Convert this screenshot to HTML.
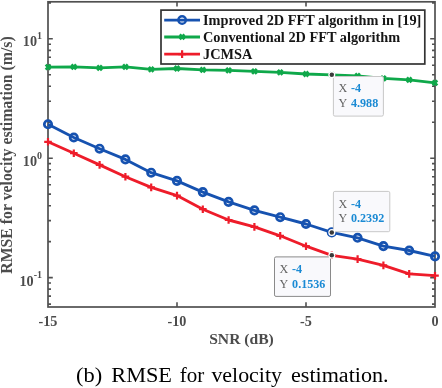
<!DOCTYPE html><html><head><meta charset="utf-8"><style>html,body{margin:0;padding:0;background:#fff;width:442px;height:388px;overflow:hidden}svg{display:block;will-change:transform}</style></head><body>
<svg width="442" height="388" viewBox="0 0 442 388">
<rect width="442" height="388" fill="#fff"/>
<path d="M48.0,304.09h3M435.0,304.09h-3M48.0,296.10h3M435.0,296.10h-3M48.0,289.17h3M435.0,289.17h-3M48.0,283.06h3M435.0,283.06h-3M48.0,277.60h4.8M435.0,277.60h-4.8M48.0,241.66h3M435.0,241.66h-3M48.0,220.63h3M435.0,220.63h-3M48.0,205.71h3M435.0,205.71h-3M48.0,194.14h3M435.0,194.14h-3M48.0,184.69h3M435.0,184.69h-3M48.0,176.70h3M435.0,176.70h-3M48.0,169.77h3M435.0,169.77h-3M48.0,163.66h3M435.0,163.66h-3M48.0,158.20h4.8M435.0,158.20h-4.8M48.0,122.26h3M435.0,122.26h-3M48.0,101.23h3M435.0,101.23h-3M48.0,86.31h3M435.0,86.31h-3M48.0,74.74h3M435.0,74.74h-3M48.0,65.29h3M435.0,65.29h-3M48.0,57.30h3M435.0,57.30h-3M48.0,50.37h3M435.0,50.37h-3M48.0,44.26h3M435.0,44.26h-3M48.0,38.80h4.8M435.0,38.80h-4.8M48.0,2.86h3M435.0,2.86h-3M48.0,2.86h3M435.0,2.86h-3M177.00,307.0v-4.8M177.00,1.8v4.8M306.00,307.0v-4.8M306.00,1.8v4.8" stroke="#505050" stroke-width="1.6" fill="none"/>
<rect x="48.0" y="1.8" width="387.0" height="305.2" fill="none" stroke="#505050" stroke-width="1.7"/>
<polyline points="48.00,67.20 73.80,66.80 99.60,67.90 125.40,66.90 151.20,69.30 177.00,68.50 202.80,69.80 228.60,70.45 254.40,71.30 280.20,72.40 306.00,74.00 331.80,74.86 357.60,75.80 383.40,78.40 409.20,79.80 435.00,82.80" fill="none" stroke="#0fa84a" stroke-width="2.85" stroke-linejoin="round"/>
<polyline points="48.00,124.30 73.80,137.50 99.60,148.70 125.40,159.40 151.20,172.70 177.00,180.90 202.80,192.10 228.60,201.90 254.40,210.40 280.20,217.20 306.00,224.00 331.80,232.40 357.60,237.80 383.40,246.10 409.20,250.50 435.00,256.40" fill="none" stroke="#1652b0" stroke-width="2.85" stroke-linejoin="round"/>
<polyline points="48.00,141.80 73.80,153.20 99.60,164.90 125.40,176.70 151.20,187.40 177.00,195.60 202.80,209.20 228.60,220.00 254.40,226.90 280.20,235.80 306.00,246.20 331.80,255.30 357.60,259.10 383.40,265.40 409.20,273.90 435.00,275.70" fill="none" stroke="#ee1c2a" stroke-width="2.85" stroke-linejoin="round"/>
<circle cx="48.00" cy="124.30" r="3.7" fill="none" stroke="#1652b0" stroke-width="2.7"/><circle cx="73.80" cy="137.50" r="3.7" fill="none" stroke="#1652b0" stroke-width="2.7"/><circle cx="99.60" cy="148.70" r="3.7" fill="none" stroke="#1652b0" stroke-width="2.7"/><circle cx="125.40" cy="159.40" r="3.7" fill="none" stroke="#1652b0" stroke-width="2.7"/><circle cx="151.20" cy="172.70" r="3.7" fill="none" stroke="#1652b0" stroke-width="2.7"/><circle cx="177.00" cy="180.90" r="3.7" fill="none" stroke="#1652b0" stroke-width="2.7"/><circle cx="202.80" cy="192.10" r="3.7" fill="none" stroke="#1652b0" stroke-width="2.7"/><circle cx="228.60" cy="201.90" r="3.7" fill="none" stroke="#1652b0" stroke-width="2.7"/><circle cx="254.40" cy="210.40" r="3.7" fill="none" stroke="#1652b0" stroke-width="2.7"/><circle cx="280.20" cy="217.20" r="3.7" fill="none" stroke="#1652b0" stroke-width="2.7"/><circle cx="306.00" cy="224.00" r="3.7" fill="none" stroke="#1652b0" stroke-width="2.7"/><circle cx="331.80" cy="232.40" r="3.7" fill="none" stroke="#1652b0" stroke-width="2.7"/><circle cx="357.60" cy="237.80" r="3.7" fill="none" stroke="#1652b0" stroke-width="2.7"/><circle cx="383.40" cy="246.10" r="3.7" fill="none" stroke="#1652b0" stroke-width="2.7"/><circle cx="409.20" cy="250.50" r="3.7" fill="none" stroke="#1652b0" stroke-width="2.7"/><circle cx="435.00" cy="256.40" r="3.7" fill="none" stroke="#1652b0" stroke-width="2.7"/><path d="M44.20,141.80h7.6M48.00,138.00v7.6" stroke="#ee1c2a" stroke-width="2.2"/><path d="M70.00,153.20h7.6M73.80,149.40v7.6" stroke="#ee1c2a" stroke-width="2.2"/><path d="M95.80,164.90h7.6M99.60,161.10v7.6" stroke="#ee1c2a" stroke-width="2.2"/><path d="M121.60,176.70h7.6M125.40,172.90v7.6" stroke="#ee1c2a" stroke-width="2.2"/><path d="M147.40,187.40h7.6M151.20,183.60v7.6" stroke="#ee1c2a" stroke-width="2.2"/><path d="M173.20,195.60h7.6M177.00,191.80v7.6" stroke="#ee1c2a" stroke-width="2.2"/><path d="M199.00,209.20h7.6M202.80,205.40v7.6" stroke="#ee1c2a" stroke-width="2.2"/><path d="M224.80,220.00h7.6M228.60,216.20v7.6" stroke="#ee1c2a" stroke-width="2.2"/><path d="M250.60,226.90h7.6M254.40,223.10v7.6" stroke="#ee1c2a" stroke-width="2.2"/><path d="M276.40,235.80h7.6M280.20,232.00v7.6" stroke="#ee1c2a" stroke-width="2.2"/><path d="M302.20,246.20h7.6M306.00,242.40v7.6" stroke="#ee1c2a" stroke-width="2.2"/><path d="M328.00,255.30h7.6M331.80,251.50v7.6" stroke="#ee1c2a" stroke-width="2.2"/><path d="M353.80,259.10h7.6M357.60,255.30v7.6" stroke="#ee1c2a" stroke-width="2.2"/><path d="M379.60,265.40h7.6M383.40,261.60v7.6" stroke="#ee1c2a" stroke-width="2.2"/><path d="M405.40,273.90h7.6M409.20,270.10v7.6" stroke="#ee1c2a" stroke-width="2.2"/><path d="M431.20,275.70h7.6M435.00,271.90v7.6" stroke="#ee1c2a" stroke-width="2.2"/><path d="M45.70,64.70L50.30,69.70M45.70,69.70L50.30,64.70" stroke="#0fa84a" stroke-width="2.6"/><path d="M71.50,64.30L76.10,69.30M71.50,69.30L76.10,64.30" stroke="#0fa84a" stroke-width="2.6"/><path d="M97.30,65.40L101.90,70.40M97.30,70.40L101.90,65.40" stroke="#0fa84a" stroke-width="2.6"/><path d="M123.10,64.40L127.70,69.40M123.10,69.40L127.70,64.40" stroke="#0fa84a" stroke-width="2.6"/><path d="M148.90,66.80L153.50,71.80M148.90,71.80L153.50,66.80" stroke="#0fa84a" stroke-width="2.6"/><path d="M174.70,66.00L179.30,71.00M174.70,71.00L179.30,66.00" stroke="#0fa84a" stroke-width="2.6"/><path d="M200.50,67.30L205.10,72.30M200.50,72.30L205.10,67.30" stroke="#0fa84a" stroke-width="2.6"/><path d="M226.30,67.95L230.90,72.95M226.30,72.95L230.90,67.95" stroke="#0fa84a" stroke-width="2.6"/><path d="M252.10,68.80L256.70,73.80M252.10,73.80L256.70,68.80" stroke="#0fa84a" stroke-width="2.6"/><path d="M277.90,69.90L282.50,74.90M277.90,74.90L282.50,69.90" stroke="#0fa84a" stroke-width="2.6"/><path d="M303.70,71.50L308.30,76.50M303.70,76.50L308.30,71.50" stroke="#0fa84a" stroke-width="2.6"/><path d="M329.50,72.36L334.10,77.36M329.50,77.36L334.10,72.36" stroke="#0fa84a" stroke-width="2.6"/><path d="M355.30,73.30L359.90,78.30M355.30,78.30L359.90,73.30" stroke="#0fa84a" stroke-width="2.6"/><path d="M381.10,75.90L385.70,80.90M381.10,80.90L385.70,75.90" stroke="#0fa84a" stroke-width="2.6"/><path d="M406.90,77.30L411.50,82.30M406.90,82.30L411.50,77.30" stroke="#0fa84a" stroke-width="2.6"/><path d="M432.70,80.30L437.30,85.30M432.70,85.30L437.30,80.30" stroke="#0fa84a" stroke-width="2.6"/>
<text x="48.00" y="325.8" font-family="Liberation Serif" font-weight="bold" font-size="14.2" fill="#4c4c4c" text-anchor="middle">-15</text>
<text x="177.00" y="325.8" font-family="Liberation Serif" font-weight="bold" font-size="14.2" fill="#4c4c4c" text-anchor="middle">-10</text>
<text x="306.00" y="325.8" font-family="Liberation Serif" font-weight="bold" font-size="14.2" fill="#4c4c4c" text-anchor="middle">-5</text>
<text x="435.00" y="325.8" font-family="Liberation Serif" font-weight="bold" font-size="14.2" fill="#4c4c4c" text-anchor="middle">0</text>
<text x="42" y="46" font-family="Liberation Serif" font-weight="bold" font-size="14.2" fill="#4c4c4c" text-anchor="end">10<tspan font-size="10" dy="-7.5">1</tspan></text>
<text x="42" y="166" font-family="Liberation Serif" font-weight="bold" font-size="14.2" fill="#4c4c4c" text-anchor="end">10<tspan font-size="10" dy="-7.5">0</tspan></text>
<text x="42" y="285.8" font-family="Liberation Serif" font-weight="bold" font-size="14.2" fill="#4c4c4c" text-anchor="end">10<tspan font-size="10" dy="-7.5">-1</tspan></text>
<text x="241.5" y="344.4" font-family="Liberation Serif" font-weight="bold" font-size="15.62" fill="#4c4c4c" text-anchor="middle">SNR (dB)</text>
<text transform="translate(11.8,155.0) rotate(-90)" x="0" y="0" font-family="Liberation Serif" font-weight="bold" font-size="15.8" fill="#4c4c4c" text-anchor="middle">RMSE for velocity estimation (m/s)</text>
<rect x="161" y="10.1" width="263.8" height="53.9" fill="#fff" stroke="#333" stroke-width="1.7"/>
<path d="M164.2,20.05H200" stroke="#1652b0" stroke-width="2.85"/>
<circle cx="182.1" cy="20.05" r="3.75" fill="none" stroke="#1652b0" stroke-width="2.4"/>
<text x="203" y="24.75" font-family="Liberation Serif" font-weight="bold" font-size="14.3" fill="#151515">Improved 2D FFT algorithm in [19]</text>
<path d="M164.2,36.95H200" stroke="#0fa84a" stroke-width="2.85"/>
<path d="M179.80,34.45L184.40,39.45M179.80,39.45L184.40,34.45" stroke="#0fa84a" stroke-width="2.6"/>
<text x="203" y="41.65" font-family="Liberation Serif" font-weight="bold" font-size="14.3" fill="#151515">Conventional 2D FFT algorithm</text>
<path d="M164.2,54.1H200" stroke="#ee1c2a" stroke-width="2.85"/>
<path d="M178.30,54.10h7.6M182.10,50.30v7.6" stroke="#ee1c2a" stroke-width="2.2"/>
<text x="203" y="58.80" font-family="Liberation Serif" font-weight="bold" font-size="14.3" fill="#151515">JCMSA</text>
<rect x="333.4" y="76.5" width="50" height="39.6" rx="1.5" fill="#f9f9fc" stroke="#c8c8c8" stroke-width="1"/><circle cx="331.8" cy="74.86" r="3.5" fill="#fff"/><circle cx="331.8" cy="74.86" r="2.25" fill="#3a3a3a"/><text x="338.4" y="92.30" font-family="Liberation Serif" font-size="12.1" fill="#636363">X</text><text x="351.00" y="92.30" font-family="Liberation Serif" font-size="12.1" font-weight="bold" fill="#1a8ad4" >-4</text><text x="338.4" y="106.50" font-family="Liberation Serif" font-size="12.1" fill="#636363">Y</text><text x="351.00" y="106.50" font-family="Liberation Serif" font-size="12.1" font-weight="bold" fill="#1a8ad4" >4.988</text>
<rect x="333.4" y="191.4" width="56.4" height="40.3" rx="1.5" fill="#f9f9fc" stroke="#c8c8c8" stroke-width="1"/><circle cx="331.8" cy="232.4" r="3.5" fill="#fff"/><circle cx="331.8" cy="232.4" r="2.25" fill="#3a3a3a"/><text x="338.4" y="208.10" font-family="Liberation Serif" font-size="12.1" fill="#636363">X</text><text x="351.00" y="208.10" font-family="Liberation Serif" font-size="12.1" font-weight="bold" fill="#1a8ad4" >-4</text><text x="338.4" y="222.30" font-family="Liberation Serif" font-size="12.1" fill="#636363">Y</text><text x="351.00" y="222.30" font-family="Liberation Serif" font-size="12.1" font-weight="bold" fill="#1a8ad4" >0.2392</text>
<rect x="274.5" y="256.9" width="56" height="39.5" rx="1.5" fill="#f9f9fc" stroke="#8a8a8a" stroke-width="1"/><circle cx="331.8" cy="255.3" r="3.5" fill="#fff"/><circle cx="331.8" cy="255.3" r="2.25" fill="#3a3a3a"/><text x="279.5" y="273.40" font-family="Liberation Serif" font-size="12.1" fill="#636363">X</text><text x="292.10" y="273.40" font-family="Liberation Serif" font-size="12.1" font-weight="bold" fill="#1a8ad4" >-4</text><text x="279.5" y="287.60" font-family="Liberation Serif" font-size="12.1" fill="#636363">Y</text><text x="292.10" y="287.60" font-family="Liberation Serif" font-size="12.1" font-weight="bold" fill="#1a8ad4" >0.1536</text>
<text x="76.11" y="381.9" font-family="Liberation Serif" font-size="21.3" fill="#000" textLength="26.17" lengthAdjust="spacingAndGlyphs">(b)</text>
<text x="111.26" y="381.9" font-family="Liberation Serif" font-size="21.3" fill="#000" textLength="60.75" lengthAdjust="spacingAndGlyphs">RMSE</text>
<text x="179.85" y="381.9" font-family="Liberation Serif" font-size="21.3" fill="#000" textLength="24.53" lengthAdjust="spacingAndGlyphs">for</text>
<text x="211.40" y="381.9" font-family="Liberation Serif" font-size="21.3" fill="#000" textLength="70.59" lengthAdjust="spacingAndGlyphs">velocity</text>
<text x="291.04" y="381.9" font-family="Liberation Serif" font-size="21.3" fill="#000" textLength="97.52" lengthAdjust="spacingAndGlyphs">estimation.</text>
</svg></body></html>
